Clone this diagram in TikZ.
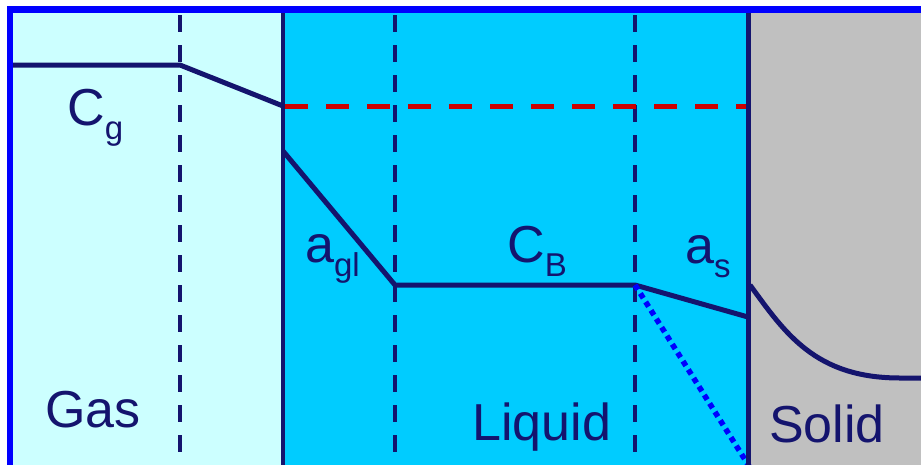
\documentclass[tikz,border=0pt]{standalone}
\usepackage{fontspec}
\setmainfont{Liberation Sans}
\definecolor{gasfill}{HTML}{CCFFFF}
\definecolor{liqfill}{HTML}{00CCFF}
\definecolor{solfill}{HTML}{C0C0C0}
\definecolor{navy}{HTML}{14146E}
\definecolor{frameblue}{HTML}{0000FF}
\definecolor{reddash}{HTML}{CC0000}
\tikzset{
  lbl/.style={anchor=base west, inner sep=0pt, text=navy, font=\fontsize{52}{52}\selectfont},
  profile/.style={draw=navy, line width=5pt, line join=round},
  filmline/.style={draw=navy, line width=4pt, dash pattern=on 17pt off 13pt},
  boundary/.style={draw=navy, line width=4.5pt},
  eqline/.style={draw=reddash, line width=5pt, dash pattern=on 23pt off 18pt},
  nosurf/.style={draw=frameblue, line width=5.5pt, dash pattern=on 5.5pt off 4.5pt},
}
\newcommand{\sbs}[1]{\raisebox{-14pt}{\fontsize{33}{33}\selectfont #1}}
\begin{document}
\begin{tikzpicture}[x=1pt,y=-1pt]
\useasboundingbox (0,0) rectangle (921,464);
\begin{scope}
\clip (0,0) rectangle (921,464);
% phase fills
\fill[gasfill] (10,9) rectangle (283,470);
\fill[liqfill] (283,9) rectangle (748,470);
\fill[solfill] (748,9) rectangle (930,470);
% film boundaries (dashed)
\draw[filmline] (180,15) -- (180,470);
\draw[filmline] (395,15) -- (395,470);
\draw[filmline] (635,15) -- (635,470);
% equilibrium line
\draw[eqline] (285,106) -- (748,106);
% profiles
\coordinate (g0) at (13,65);
\coordinate (g1) at (180,65);
\coordinate (g2) at (283,106);
\draw[profile] (g0) -- (g1) -- (g2);
\coordinate (l0) at (283,151);
\coordinate (l1) at (395,285);
\coordinate (l2) at (635,285);
\coordinate (l3) at (748,317);
\draw[profile] (l0) -- (l1) -- (l2) -- (l3);
\coordinate (d1) at (749,466);
\draw[nosurf] (l2) -- (d1);
\coordinate (s0) at (750,285);
\coordinate (s1) at (900,378);
\coordinate (s2) at (930,378);
\draw[profile] (s0) .. controls (785,333) and (815,378) .. (s1) -- (s2);
% phase boundaries
\draw[boundary] (283,12) -- (283,470);
\draw[boundary] (748.5,12) -- (748.5,470);
% outer frame
\draw[frameblue, line width=6.5pt] (10,9.5) rectangle (935,480);
\end{scope}
% labels
\node[lbl] (cg) at (67,125) {C\sbs{g}};
\node[lbl] (agl) at (305,262) {a\sbs{gl}};
\node[lbl] (cb) at (507,262) {C\sbs{B}};
\node[lbl] (as) at (685,263) {a\sbs{s}};
\node[lbl] (gas) at (45,427) {Gas};
\node[lbl] (liq) at (472,440) {Liquid};
\node[lbl] (sol) at (769,442) {Solid};
\end{tikzpicture}
\end{document}
